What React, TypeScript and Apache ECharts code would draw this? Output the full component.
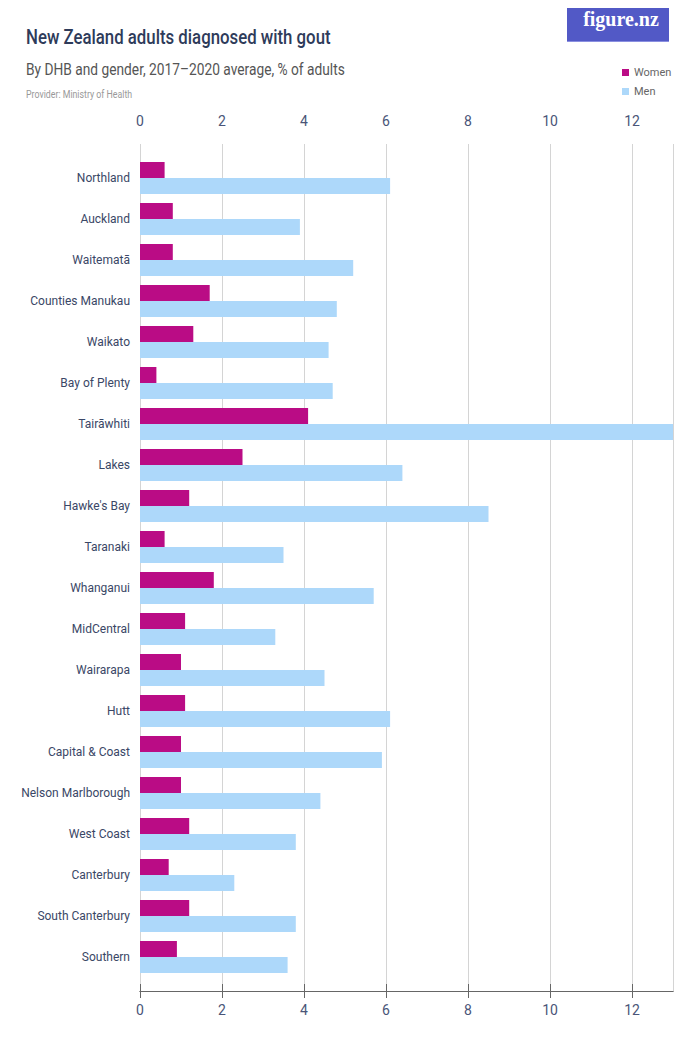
import React, { useEffect, useRef } from "react";
import * as echarts from "echarts";

const categories = [
  "Northland", "Auckland", "Waitematā", "Counties Manukau", "Waikato",
  "Bay of Plenty", "Tairāwhiti", "Lakes", "Hawke's Bay", "Taranaki",
  "Whanganui", "MidCentral", "Wairarapa", "Hutt", "Capital & Coast",
  "Nelson Marlborough", "West Coast", "Canterbury", "South Canterbury", "Southern",
];
const women = [0.6, 0.8, 0.8, 1.7, 1.3, 0.4, 4.1, 2.5, 1.2, 0.6, 1.8, 1.1, 1.0, 1.1, 1.0, 1.0, 1.2, 0.7, 1.2, 0.9];
const men = [6.1, 3.9, 5.2, 4.8, 4.6, 4.7, 13.0, 6.4, 8.5, 3.5, 5.7, 3.3, 4.5, 6.1, 5.9, 4.4, 3.8, 2.3, 3.8, 3.6];
const seriesNames = ["Women", "Men"];
const xMin = 0;
const xMax = 13;
const xInterval = 2;

const FONT = "Roboto, 'Liberation Sans', sans-serif";
const WOMEN_COLOR = "#BA0C85";
const MEN_COLOR = "#ADD8FA";
const TEXT_DARK = "#3A4766";

export default function App() {
  const ref = useRef<HTMLDivElement>(null);
  useEffect(() => {
    if (!ref.current) return;
    const chart = echarts.init(ref.current, null, { renderer: "svg" });
    const axisLabel = { color: "#4A5578", fontSize: 14, fontFamily: FONT, showMaxLabel: false };
    chart.setOption({
      animation: false,
      backgroundColor: "#fff",
      textStyle: { fontFamily: FONT },
      legend: {
        orient: "vertical",
        left: 617,
        top: 62,
        itemWidth: 7,
        itemHeight: 7,
        itemGap: 8,
        icon: "rect",
        textStyle: { color: "#666", fontSize: 11, fontFamily: FONT },
        data: seriesNames,
      },
      graphic: [
        {
          type: "text",
          x: 26,
          y: 37,
          scaleX: 0.8,
          style: { text: "New Zealand adults diagnosed with gout", fill: "#2E3B5A", fontSize: 21, fontWeight: 500, fontFamily: FONT, verticalAlign: "middle" },
        },
        {
          type: "text",
          x: 26,
          y: 70,
          scaleX: 0.86,
          style: { text: "By DHB and gender, 2017–2020 average, % of adults", fill: "#555", fontSize: 16, fontFamily: FONT, verticalAlign: "middle" },
        },
        {
          type: "text",
          x: 26,
          y: 94,
          scaleX: 0.8,
          style: { text: "Provider: Ministry of Health", fill: "#999", fontSize: 11, fontFamily: FONT, verticalAlign: "middle" },
        },
        {
          type: "rect",
          shape: { x: 567, y: 0, width: 102, height: 42 },
          style: { fill: "#5259C6" },
        },
        {
          type: "rect",
          shape: { x: 567, y: 41, width: 102, height: 1 },
          style: { fill: "#8A8FE0" },
        },
        {
          type: "text",
          x: 621,
          y: 19,
          style: { text: "figure.nz", fill: "#fff", fontSize: 20, fontWeight: "bold", fontFamily: "'Liberation Serif', 'DejaVu Serif', serif", align: "center", verticalAlign: "middle" },
        },
      ],
      grid: [
        { left: 140, right: 27, top: 157.5, height: 820, containLabel: false },
        { left: 140, right: 27, top: 144, height: 847, containLabel: false },
      ],
      xAxis: [
        { type: "value", gridIndex: 0, min: xMin, max: xMax, interval: xInterval, show: false },
        {
          type: "value", gridIndex: 1, position: "top", min: xMin, max: xMax, interval: xInterval,
          axisLine: { show: true, lineStyle: { color: "#666", width: 1 } },
          axisTick: { show: true, length: 7, lineStyle: { color: "#666" } },
          splitLine: { show: true, lineStyle: { color: "#D4D4D4", width: 1 } },
          axisLabel: { ...axisLabel, margin: 16 },
        },
        {
          type: "value", gridIndex: 1, position: "bottom", min: xMin, max: xMax, interval: xInterval,
          axisLine: { show: true, lineStyle: { color: "#666", width: 1 } },
          axisTick: { show: true, length: 7, lineStyle: { color: "#666" } },
          splitLine: { show: false },
          axisLabel: { ...axisLabel, margin: 12 },
        },
      ],
      yAxis: [
        {
          type: "category", gridIndex: 0, inverse: true, data: categories,
          axisLine: { show: false }, axisTick: { show: false }, splitLine: { show: false },
          axisLabel: { color: TEXT_DARK, fontSize: 12, fontFamily: FONT, margin: 10, padding: [0, 0, 4, 0] },
        },
        { type: "value", gridIndex: 1, min: 0, max: 1, show: false },
      ],
      series: [
        {
          name: seriesNames[0], type: "bar", xAxisIndex: 0, yAxisIndex: 0, data: women,
          barWidth: 16, barGap: "0%", itemStyle: { color: WOMEN_COLOR },
        },
        {
          name: seriesNames[1], type: "bar", xAxisIndex: 0, yAxisIndex: 0, data: men,
          barWidth: 16, barGap: "0%", itemStyle: { color: MEN_COLOR },
        },
      ],
    });
    return () => chart.dispose();
  }, []);
  return <div ref={ref} style={{ width: 700, height: 1050, margin: -8 }} />;
}
